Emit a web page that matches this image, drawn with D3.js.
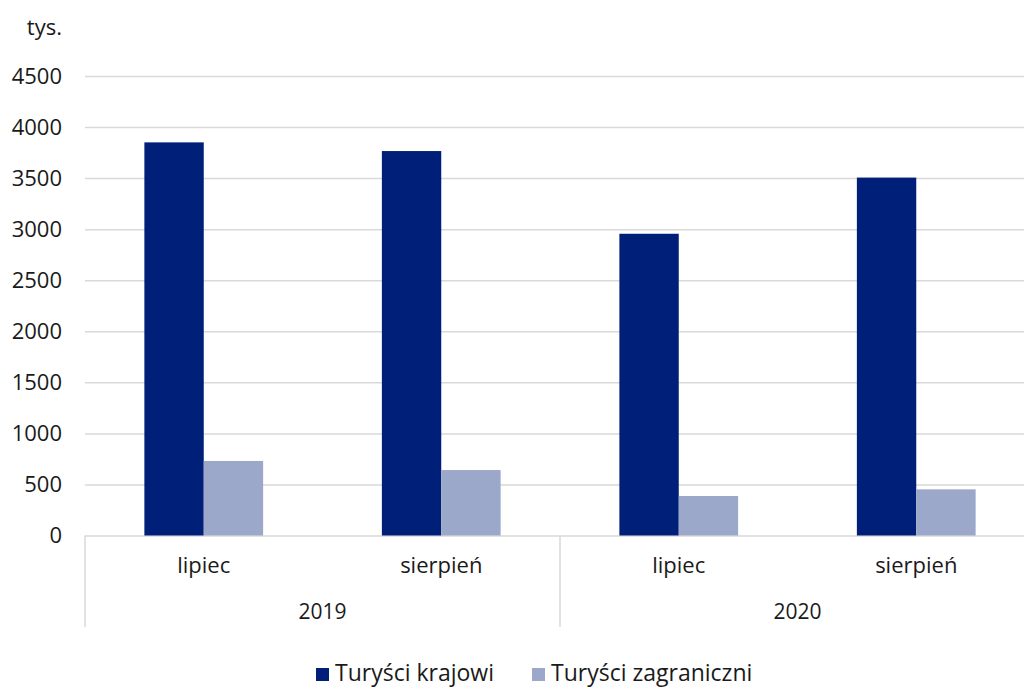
<!DOCTYPE html>
<html>
<head>
<meta charset="utf-8">
<script src="https://cdn.jsdelivr.net/npm/d3@7"></script>
<style>
	body { margin: 0; background: #fff; }
	svg text { font-family: "Open Sans", "Noto Sans", sans-serif; fill: #1a1a1a; }
</style>
</head>
<body>
<div id="picture"></div>
<script>
// data
const years    = ["2019", "2020"]
	, months   = ["lipiec", "sierpień"]
	, series   = ["Turyści krajowi", "Turyści zagraniczni"]
	, krajowi  = [3850, 3765, 2955, 3505]
	, zagran   = [730, 641, 387, 452]
	, yTicks   = [0, 500, 1000, 1500, 2000, 2500, 3000, 3500, 4000, 4500]
	, colors   = ["#001f78", "#9ca8c9"];

const width  = 1024
	, height = 688
	, plot   = { left: 85, right: 1035, top: 76, bottom: 535.5 };

const rows = [];
years.forEach((y, i) => months.forEach((m, j) => {
	const k = i * months.length + j;
	rows.push({ key: y + "|" + m, year: y, month: m, values: [krajowi[k], zagran[k]] });
}));

const svg = d3.select("#picture")
	.append("svg")
		.attr("width", width)
		.attr("height", height);

// scales
const x = d3.scaleBand()
	.domain(rows.map(d => d.key))
	.range([plot.left, plot.right])
	.paddingInner(0.5)
	.paddingOuter(0.25);
const xs = d3.scaleBand()
	.domain(series)
	.range([0, x.bandwidth()]);
const y = d3.scaleLinear()
	.domain([0, 4500])
	.range([plot.bottom, plot.top]);
const step = x.step();

// gridlines + y labels
svg.append("g")
	.attr("transform", "translate(" + plot.left + ",0)")
	.call(d3.axisLeft(y)
		.tickValues(yTicks)
		.tickFormat(d3.format("d"))
		.tickSize(-(plot.right - plot.left))
		.tickPadding(23))
	.call(g => g.select(".domain").remove())
	.call(g => g.selectAll(".tick line")
		.attr("stroke", "#d9d9d9")
		.attr("stroke-width", 1.5))
	.call(g => g.selectAll(".tick text")
		.attr("font-size", 22)
		.attr("font-family", "'Open Sans', sans-serif")
		.attr("fill", "#1a1a1a"));

svg.append("text")
	.attr("x", 62)
	.attr("y", 35)
	.attr("text-anchor", "end")
	.attr("font-size", 22)
	.text("tys.");

// bars
const grp = svg.selectAll(".grp")
	.data(rows)
	.join("g")
		.attr("class", "grp")
		.attr("transform", d => "translate(" + x(d.key) + ",0)");
grp.selectAll("rect")
	.data(d => d.values.map((v, i) => ({ s: series[i], v: v, i: i })))
	.join("rect")
		.attr("x", d => xs(d.s))
		.attr("y", d => y(d.v))
		.attr("width", xs.bandwidth())
		.attr("height", d => y(0) - y(d.v))
		.attr("fill", d => colors[d.i]);

// category axis
const yearW = step * months.length;
svg.selectAll(".sep")
	.data(d3.range(years.length + 1))
	.join("line")
		.attr("x1", i => plot.left + i * yearW)
		.attr("x2", i => plot.left + i * yearW)
		.attr("y1", plot.bottom)
		.attr("y2", 627)
		.attr("stroke", "#d9d9d9")
		.attr("stroke-width", 1.5);

svg.selectAll(".mlab")
	.data(rows)
	.join("text")
		.attr("x", d => x(d.key) + x.bandwidth() / 2)
		.attr("y", 573)
		.attr("text-anchor", "middle")
		.attr("font-size", 22)
		.text(d => d.month);

svg.selectAll(".ylab")
	.data(years)
	.join("text")
		.attr("x", (d, i) => plot.left + (i + 0.5) * yearW)
		.attr("y", 619)
		.attr("text-anchor", "middle")
		.attr("font-size", 21)
		.text(d => d);

// legend
const legX = [316, 532];
const leg = svg.selectAll(".leg")
	.data(series)
	.join("g")
		.attr("transform", (d, i) => "translate(" + legX[i] + ",668)");
leg.append("rect")
	.attr("width", 13)
	.attr("height", 13)
	.attr("fill", (d, i) => colors[i]);
leg.append("text")
	.attr("x", 19)
	.attr("y", 13)
	.attr("font-size", 23)
	.text(d => d);
</script>
</body>
</html>
